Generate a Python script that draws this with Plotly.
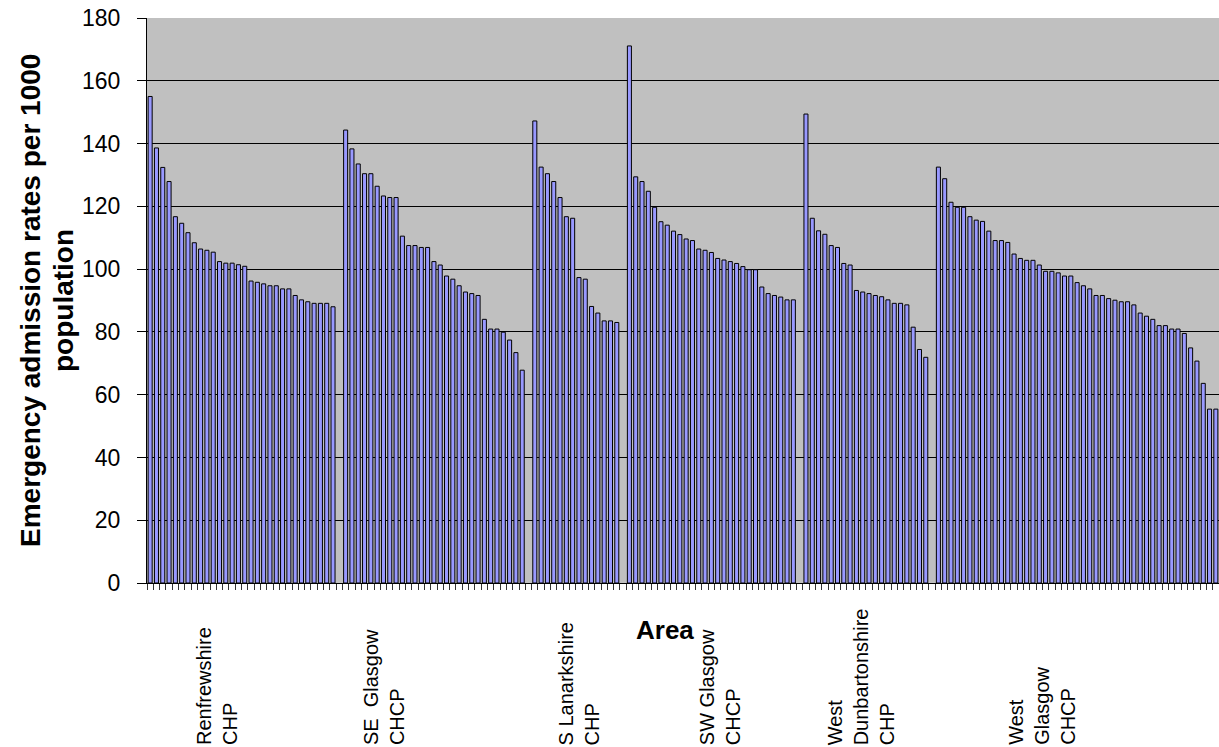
import plotly.graph_objects as go

# ---- data ----
areas = ["Renfrewshire<br>CHP", "SE  Glasgow<br>CHCP", "S Lanarkshire<br>CHP",
         "SW Glasgow<br>CHCP", "West<br>Dunbartonshire<br>CHP", "West<br>Glasgow<br>CHCP"]

renfrewshire = [155, 138.6, 132.4, 127.9, 116.7, 114.6, 111.6, 108.4, 106.4, 106.0,
                105.4, 102.4, 101.9, 101.9, 101.4, 100.9, 96.2, 95.8, 95.3, 94.7,
                94.7, 93.7, 93.7, 91.6, 90.2, 89.6, 89.1, 89.1, 89.1, 88.0]
se_glasgow = [144.3, 138.3, 133.5, 130.4, 130.4, 126.4, 123.3, 122.8, 122.8,
              110.5, 107.5, 107.5, 106.9, 106.9, 102.4, 101.3,
              97.8, 96.8, 94.7, 92.7, 92.2, 91.6,
              84.0, 80.9, 80.9, 79.9, 77.4, 73.4, 67.8]
s_lanarkshire = [147.2, 132.5, 130.4, 127.9, 122.8, 116.7, 116.2, 97.3, 96.8,
                 88.1, 86.0, 83.5, 83.5, 83.0]
sw_glasgow = [171.1, 129.4, 127.9, 124.8, 119.7, 115.1, 114.0, 112.1, 111.0,
              109.6, 109.1, 106.4, 106.0, 105.3, 103.4, 102.9, 102.4, 101.8,
              100.8, 99.8, 99.8, 94.3, 92.2, 91.6, 91.1, 90.2, 90.2]
west_dunbartonshire = [149.4, 116.2, 112.2, 111.1, 107.5, 106.9, 101.8, 101.3,
                       93.2, 92.7, 92.2, 91.6, 91.2, 90.2, 89.1, 89.1, 88.6,
                       81.5, 74.4, 71.9]
west_glasgow = [132.5, 128.8, 121.3, 119.7, 119.7, 116.7, 115.6, 115.2, 112.1,
                109.1, 109.1, 108.5, 104.8, 103.4, 102.8, 102.8, 101.3, 99.3,
                99.3, 98.8, 97.8, 97.8, 95.7, 94.7, 93.7, 91.6, 91.6, 90.6,
                90.1, 89.6, 89.6, 88.6, 86.0, 85.0, 84.0, 82.0, 82.0, 80.9,
                80.9, 79.5, 74.9, 70.7, 63.6, 55.4, 55.4]

groups = [renfrewshire, se_glasgow, s_lanarkshire, sw_glasgow,
          west_dunbartonshire, west_glasgow]

y_ticks = [0, 20, 40, 60, 80, 100, 120, 140, 160, 180]

y_title_lines = ["Emergency admission rates per 1000", "population"]
x_title = "Area"

# ---- layout constants (label placement within each group, in categories) ----
label_offset = [10.6, 6.1, 7.0, 14.4, 8.7, 16.4]

# build categories with one empty slot between areas
xs, ys, starts = [], [], []
idx = 0
for g_i, g in enumerate(groups):
    starts.append(idx)
    for v in g:
        xs.append(idx)
        ys.append(v)
        idx += 1
    if g_i < len(groups) - 1:
        idx += 1  # empty separator category
n_cat = idx

FONT = "Arial, Liberation Sans, sans-serif"

W, H = 1219, 747
# plot area in page pixels
PL, PR, PT, PB = 147, 1219, 18, 583
PW, PH = PR - PL, PB - PT


def px_x(p):
    return (p - PL) / PW


def px_y(p):
    return (PB - p) / PH


fig = go.Figure()
fig.add_trace(go.Bar(
    x=xs, y=ys,
    marker=dict(color="#9999FF", line=dict(color="black", width=1)),
    hoverinfo="y",
))

annotations = []
for name, st, off in zip(areas, starts, label_offset):
    annotations.append(dict(
        text=name, x=st + off, xref="x", y=px_y(747), yref="paper",
        xanchor="center", yanchor="bottom", textangle=-90, align="left",
        showarrow=False, font=dict(family=FONT, size=20, color="black"),
    ))

annotations.append(dict(
    text="<b>%s</b>" % x_title, x=px_x(665), xref="paper",
    y=px_y(630), yref="paper", xanchor="center", yanchor="middle",
    showarrow=False, font=dict(family=FONT, size=26, color="black"),
))
for line, cx in zip(y_title_lines, [30, 63]):
    annotations.append(dict(
        text="<b>%s</b>" % line,
        x=px_x(cx), xref="paper", y=px_y(301), yref="paper",
        xanchor="center", yanchor="middle", textangle=-90, showarrow=False,
        font=dict(family=FONT, size=28, color="black"),
    ))

fig.update_layout(
    width=W, height=H,
    margin=dict(l=PL, r=W - PR, t=PT, b=H - PB),
    paper_bgcolor="white", plot_bgcolor="#C0C0C0",
    bargap=0.36, showlegend=False,
    annotations=annotations,
    font=dict(family=FONT, color="black"),
)
fig.update_xaxes(
    range=[-0.5, n_cat - 0.5],
    tickmode="array",
    tickvals=[i - 0.5 for i in range(n_cat + 1)],
    ticktext=["" for _ in range(n_cat + 1)],
    ticks="outside", ticklen=6, tickcolor="#333333", tickwidth=1,
    showline=True, linecolor="black", linewidth=1,
    showgrid=False, zeroline=False, automargin=False,
)
fig.update_yaxes(
    range=[0, 180], tickmode="array", tickvals=y_ticks,
    ticks="outside", ticklen=9, tickcolor="black", tickwidth=1,
    showline=True, linecolor="black", linewidth=1,
    showgrid=True, gridcolor="black", gridwidth=1, zeroline=False,
    tickfont=dict(family=FONT, size=23, color="black"),
    ticklabelstandoff=12, ticklabeloverflow="allow", automargin=False,
)

fig.write_html(
    "out.html",
    config={"displayModeBar": False},
    post_script="document.body.style.margin='0';document.body.style.overflow='hidden';",
)
